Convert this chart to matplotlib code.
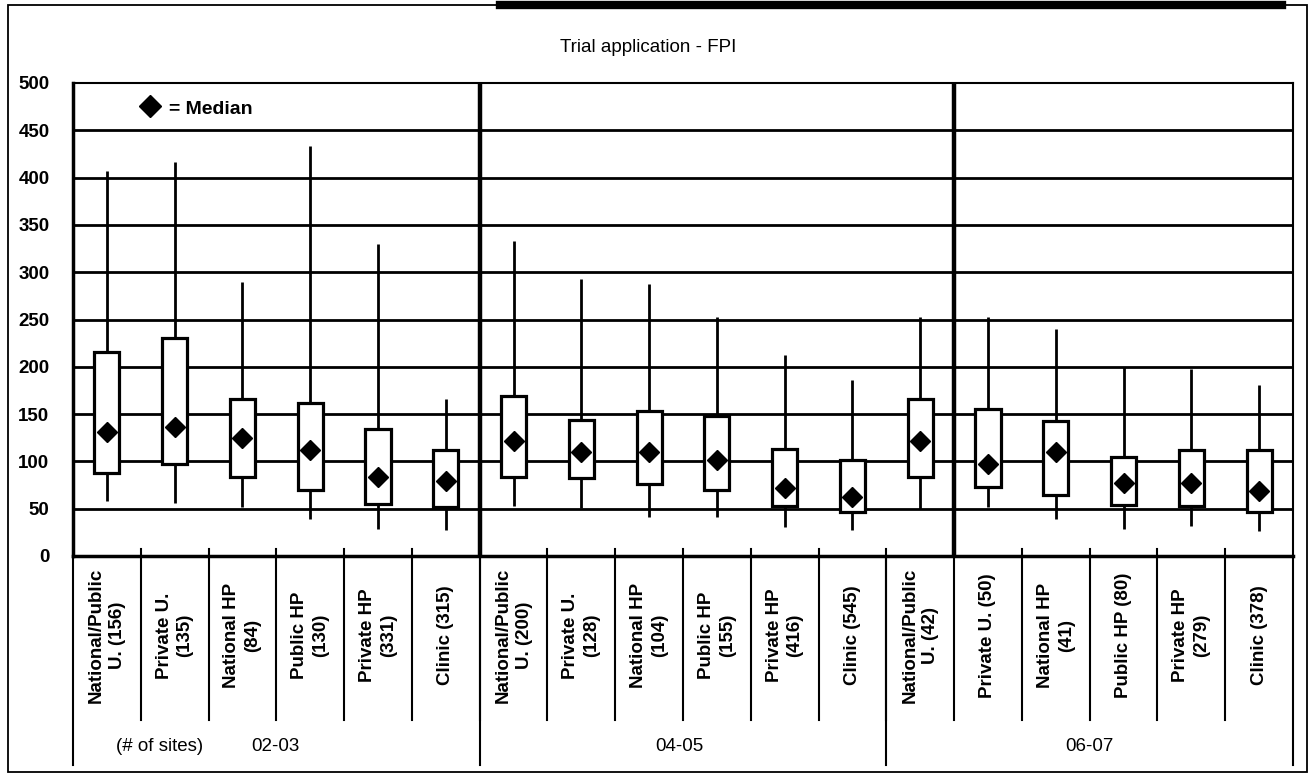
import matplotlib.pyplot as plt
from matplotlib.patches import Rectangle
from matplotlib.lines import Line2D

plt.rcParams['font.family'] = ['Liberation Sans', 'DejaVu Sans']

groups = ['02-03', '04-05', '06-07']
categories = [
    'National/Public\nU. (156)', 'Private U.\n(135)', 'National HP\n(84)', 'Public HP\n(130)',
    'Private HP\n(331)', 'Clinic (315)',
    'National/Public\nU. (200)', 'Private U.\n(128)', 'National HP\n(104)', 'Public HP\n(155)',
    'Private HP\n(416)', 'Clinic (545)',
    'National/Public\nU. (42)', 'Private U. (50)', 'National HP\n(41)', 'Public HP (80)',
    'Private HP\n(279)', 'Clinic (378)',
]
whisker_high = [407, 417, 290, 433, 330, 166, 333, 293, 288, 253, 212, 186, 253, 253, 240, 200, 198, 181]
box_top = [216, 230, 166, 162, 134, 112, 169, 144, 153, 148, 113, 102, 166, 155, 143, 105, 112, 112]
median = [131, 136, 125, 112, 84, 79, 122, 110, 110, 101, 72, 62, 122, 97, 110, 77, 77, 69]
box_bottom = [88, 97, 84, 70, 55, 52, 83, 82, 76, 70, 53, 47, 84, 73, 65, 54, 53, 46]
whisker_low = [58, 56, 52, 39, 29, 28, 53, 51, 41, 41, 31, 27, 50, 52, 39, 29, 32, 26]

n = len(categories)
xs = list(range(n))

fig = plt.figure(figsize=(13.13, 7.74), dpi=100)
ax = fig.add_axes([73 / 1313, 1 - 556 / 774, 1220 / 1313, 473 / 774])
ax.set_xlim(-0.5, n - 0.5)
ax.set_ylim(0, 500)

# horizontal grid
for v in range(50, 500, 50):
    ax.axhline(v, color='black', lw=2.0, zorder=1)

# thick separators inside the plot
for sep in [5.5, 12.5]:
    ax.axvline(sep, color='black', lw=3.2, zorder=1)

ax.vlines(xs, whisker_low, whisker_high, color='black', lw=2.0, zorder=2)
ax.bar(xs, [t - b for t, b in zip(box_top, box_bottom)], bottom=box_bottom, width=0.37,
       facecolor='white', edgecolor='black', lw=2.3, zorder=3)
ax.plot(xs, median, ls='none', marker='D', ms=10, color='black', zorder=4)

ax.set_xticks([])
ax.set_yticks(range(0, 501, 50))
ax.tick_params(axis='y', length=0, pad=17)
for lab in ax.get_yticklabels():
    lab.set_fontsize(13.5)
    lab.set_fontweight('bold')
ax.spines['left'].set_linewidth(2.5)
ax.spines['bottom'].set_linewidth(2.5)
ax.spines['top'].set_linewidth(1.5)
ax.spines['right'].set_linewidth(1.5)

# legend
ax.plot([0.64], [476], marker='D', ms=11, color='black', clip_on=False)
ax.text(0.92, 472, '= Median', fontsize=14, fontweight='bold', va='center', ha='left')

# category table below the axis
tr = ax.get_xaxis_transform()
for k in range(1, n):
    ax.plot([k - 0.5, k - 0.5], [0.015, -0.347], color='black', lw=1.5, transform=tr, clip_on=False)
for gx in [-0.5, 5.5, 11.5, n - 0.5]:
    ax.plot([gx, gx], [0, -0.442], color='black', lw=1.5, transform=tr, clip_on=False)
for x, lab in zip(xs, categories):
    ax.text(x, -0.168, lab, rotation=90, ha='center', va='center', multialignment='center',
            fontsize=13.5, fontweight='bold', transform=tr, linespacing=1.3)

ax.text(0.78, -0.402, '(# of sites)', fontsize=13.5, ha='center', va='center', transform=tr)
ax.text(2.48, -0.402, groups[0], fontsize=13.5, ha='center', va='center', transform=tr)
ax.text(8.45, -0.402, groups[1], fontsize=13.5, ha='center', va='center', transform=tr)
ax.text(14.5, -0.402, groups[2], fontsize=13.5, ha='center', va='center', transform=tr)

fig.text(0.494, 0.938, 'Trial application - FPI', fontsize=13.5, ha='center', va='center',
         family=['Liberation Sans Narrow', 'Liberation Sans'])

# outer frame
fig.patches.append(Rectangle((8 / 1313, 2 / 774), 1299 / 1313, 767 / 774, transform=fig.transFigure,
                             fill=False, edgecolor='black', lw=1.3))
fig.lines.append(Line2D([500 / 1313, 1282 / 1313], [1 - 5 / 774, 1 - 5 / 774], transform=fig.transFigure,
                        color='black', lw=6))

fig.savefig('out.png', dpi=100)
